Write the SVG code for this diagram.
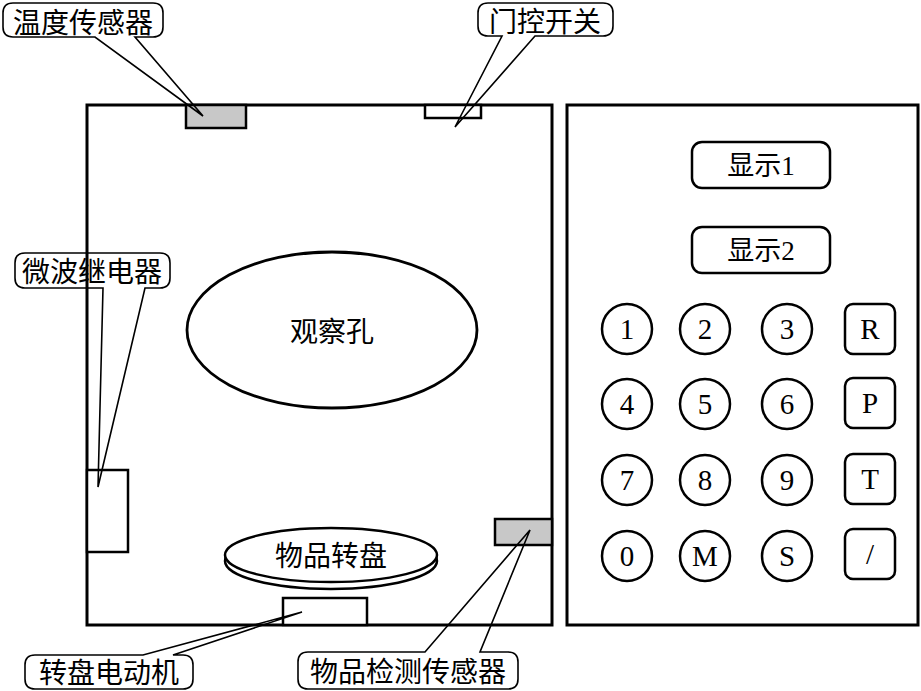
<svg xmlns="http://www.w3.org/2000/svg" width="921" height="691" viewBox="0 0 921 691">
<style>
.frame{fill:#fff;stroke:#000;stroke-width:3}
.part{stroke:#000;stroke-width:2.5}
.gray{fill:#c8c8c8}
.white{fill:#fff}
.call{fill:none;stroke:#000;stroke-width:1.6;stroke-linejoin:miter}
.key{fill:#fff;stroke:#000;stroke-width:2.5}
.cn{font-family:"Noto Sans CJK SC","Liberation Sans",sans-serif;font-size:28px;fill:#000;text-anchor:middle;dominant-baseline:central}
.lat{font-family:"Liberation Serif","Noto Sans CJK SC",serif;font-size:27px;fill:#000;text-anchor:middle;dominant-baseline:central}
.dig{font-size:29px}
</style>
<rect width="921" height="691" fill="#fff"/>
<g id="oven">
<rect class="frame" x="87" y="105" width="465" height="520"/>
</g>
<g id="temp-sensor"><rect class="part gray" x="186" y="105" width="60" height="23"/></g>
<g id="door-switch"><rect class="part white" x="425" y="105" width="56" height="13"/></g>
<g id="relay"><rect class="part white" x="87" y="470" width="41" height="82"/></g>
<g id="window">
<ellipse cx="332" cy="330" rx="145" ry="78" fill="#fff" stroke="#000" stroke-width="2.8"/>
<text class="cn" x="332" y="330">观察孔</text>
</g>
<g id="motor"><rect class="part white" x="283" y="598" width="84" height="27"/></g>
<g id="turntable">
<ellipse cx="331" cy="561" rx="106" ry="28" fill="#fff" stroke="#000" stroke-width="2.5"/>
<ellipse cx="331" cy="555" rx="106" ry="27" fill="#fff" stroke="#000" stroke-width="2.5"/>
<text class="cn" x="331" y="554">物品转盘</text>
</g>
<g id="object-sensor"><rect class="part gray" x="495" y="519" width="57" height="26"/></g>
<g id="panel">
<rect class="frame" x="567" y="105" width="351" height="520"/>
</g>
<g id="display1">
<rect class="key" x="692" y="142" width="138" height="46" rx="10" stroke-width="3"/>
<text class="lat" x="761" y="166">显示1</text>
</g>
<g id="display2">
<rect class="key" x="692" y="227" width="138" height="46" rx="10" stroke-width="3"/>
<text class="lat" x="761" y="251">显示2</text>
</g>
<g id="keys">
<g id="k1"><circle class="key" cx="627" cy="329" r="25"/><text class="lat dig" x="627" y="329">1</text></g>
<g id="k2"><circle class="key" cx="705" cy="329" r="25"/><text class="lat dig" x="705" y="329">2</text></g>
<g id="k3"><circle class="key" cx="787" cy="329" r="25"/><text class="lat dig" x="787" y="329">3</text></g>
<g id="kR"><rect class="key" x="845" y="304" width="50" height="50" rx="8"/><text class="lat dig" x="870" y="329">R</text></g>
<g id="k4"><circle class="key" cx="627" cy="404" r="25"/><text class="lat dig" x="627" y="404">4</text></g>
<g id="k5"><circle class="key" cx="705" cy="404" r="25"/><text class="lat dig" x="705" y="404">5</text></g>
<g id="k6"><circle class="key" cx="787" cy="404" r="25"/><text class="lat dig" x="787" y="404">6</text></g>
<g id="kP"><rect class="key" x="845" y="378" width="50" height="50" rx="8"/><text class="lat dig" x="870" y="403">P</text></g>
<g id="k7"><circle class="key" cx="627" cy="480" r="25"/><text class="lat dig" x="627" y="480">7</text></g>
<g id="k8"><circle class="key" cx="705" cy="480" r="25"/><text class="lat dig" x="705" y="480">8</text></g>
<g id="k9"><circle class="key" cx="787" cy="480" r="25"/><text class="lat dig" x="787" y="480">9</text></g>
<g id="kT"><rect class="key" x="845" y="454" width="50" height="50" rx="8"/><text class="lat dig" x="870" y="479">T</text></g>
<g id="k0"><circle class="key" cx="627" cy="556" r="25"/><text class="lat dig" x="627" y="556">0</text></g>
<g id="kM"><circle class="key" cx="705" cy="556" r="25"/><text class="lat dig" x="705" y="556">M</text></g>
<g id="kS"><circle class="key" cx="787" cy="556" r="25"/><text class="lat dig" x="787" y="556">S</text></g>
<g id="kSlash"><rect class="key" x="845" y="529" width="50" height="50" rx="8"/><text class="lat dig" x="870" y="554">/</text></g>
</g>
<g id="connectors">
<path class="call" d="M95,37 L13,37 Q3,37 3,27 L3,13 Q3,3 13,3 L153,3 Q163,3 163,13 L163,27 Q163,37 153,37 L135,37 L203,116 Z"/>
<path class="call" d="M502,36 L488,36 Q478,36 478,26 L478,13 Q478,3 488,3 L603,3 Q613,3 613,13 L613,26 Q613,36 603,36 L535,36 L455,127 Z"/>
<path class="call" d="M103,288 L25,288 Q15,288 15,278 L15,263 Q15,253 25,253 L160,253 Q170,253 170,263 L170,278 Q170,288 160,288 L145,288 L98,487 Z"/>
<path class="call" d="M143,655 L35,655 Q25,655 25,665 L25,679 Q25,689 35,689 L183,689 Q193,689 193,679 L193,665 Q193,655 183,655 L173,655 L302,612 Z"/>
<path class="call" d="M425,652 L308,652 Q298,652 298,662 L298,679 Q298,689 308,689 L508,689 Q518,689 518,679 L518,662 Q518,652 508,652 L480,652 L530,530 Z"/>
</g>
<g id="labels">
<text class="cn" x="83" y="21">温度传感器</text>
<text class="cn" x="545" y="20">门控开关</text>
<text class="cn" x="92" y="270">微波继电器</text>
<text class="cn" x="109" y="671">转盘电动机</text>
<text class="cn" x="408" y="670">物品检测传感器</text>
</g>
</svg>
